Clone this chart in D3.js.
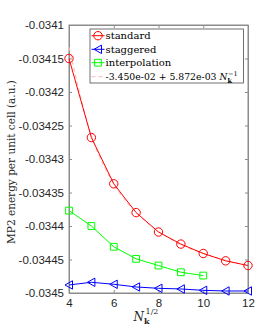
<!DOCTYPE html>
<meta charset="utf-8">
<script src="https://d3js.org/d3.v7.min.js"></script>
<style>
  body { margin: 0; background: #fff; }
</style>
<div id="chart"></div>
<script>

// data
var xs = [4, 5, 6, 7, 8, 9, 10, 11, 12];
var standard = [-0.03415, -0.034268, -0.034337, -0.03438, -0.034409, -0.034427, -0.034441, -0.034452, -0.034459];
var staggered = [-0.034488, -0.034484, -0.034487, -0.034491, -0.034493, -0.034494, -0.034496, -0.034497, -0.034497];
var interpX = [4, 5, 6, 7, 8, 9, 10];
var interpolation = [-0.034377, -0.0344, -0.034431, -0.034449, -0.034459, -0.034469, -0.034474];
var fit = [-0.034133, -0.034265, -0.034337, -0.03438, -0.034408, -0.034428, -0.034441, -0.034451, -0.034459];
var xTicks = [4, 6, 8, 10, 12];
var yTicks = [-0.0341, -0.03415, -0.0342, -0.03425, -0.0343, -0.03435, -0.0344, -0.03445, -0.0345];

var W = 274, H = 329;
var svg = d3.select("#chart").append("svg")
  .attr("width", W).attr("height", H);

var x = d3.scaleLinear().domain([4, 12]).range([69, 248]);
var y = d3.scaleLinear().domain([-0.0345, -0.0341]).range([293, 25]);

var axisCol = "#8c8c8c", textCol = "#262626";

// frame
svg.append("rect")
  .attr("x", 69).attr("y", 25).attr("width", 179).attr("height", 268)
  .attr("fill", "none").attr("stroke", axisCol).attr("stroke-width", 1);

// axes with inward ticks
var xb = svg.append("g").attr("transform", "translate(0,293)")
  .call(d3.axisBottom(x).tickValues(xTicks).tickSizeInner(-3).tickSizeOuter(0).tickPadding(6));
var xt = svg.append("g").attr("transform", "translate(0,25)")
  .call(d3.axisTop(x).tickValues(xTicks).tickSizeInner(-3).tickSizeOuter(0).tickFormat(""));
var yl = svg.append("g").attr("transform", "translate(69,0)")
  .call(d3.axisLeft(y).tickValues(yTicks).tickSizeInner(-3).tickSizeOuter(0).tickPadding(5)
    .tickFormat(function(d) { return String(+d.toFixed(5)).replace("−", "-"); }));
var yr = svg.append("g").attr("transform", "translate(248,0)")
  .call(d3.axisRight(y).tickValues(yTicks).tickSizeInner(-3).tickSizeOuter(0).tickFormat(""));

[xb, xt, yl, yr].forEach(function(g) {
  g.select(".domain").attr("stroke", axisCol);
  g.selectAll(".tick line").attr("stroke", axisCol);
  g.selectAll("text").attr("fill", textCol)
    .style("font-family", "'Liberation Sans', Arial, sans-serif").style("font-size", "11.5px");
});

// fit curve (behind)
var fitLine = d3.line().x(function(d, i) { return x(xs[i]); }).y(function(d) { return y(d); })
  .curve(d3.curveMonotoneX);
svg.append("path").datum(fit)
  .attr("d", fitLine).attr("fill", "none")
  .attr("stroke", "#ffb3b3").attr("stroke-width", 1).attr("stroke-dasharray", "4,3");

function drawSeries(xv, yv, col, marker) {
  var line = d3.line().x(function(d, i) { return x(xv[i]); }).y(function(d) { return y(d); });
  svg.append("path").datum(yv).attr("d", line)
    .attr("fill", "none").attr("stroke", col).attr("stroke-width", 1);
  svg.selectAll(null).data(yv).enter().append("path")
    .attr("transform", function(d, i) { return "translate(" + x(xv[i]) + "," + y(d) + ")"; })
    .attr("d", marker).attr("fill", "none").attr("stroke", col).attr("stroke-width", 1);
}

var circle = "M4.2,0A4.2,4.2 0 1,1 -4.2,0A4.2,4.2 0 1,1 4.2,0Z";
var square = "M-3.4,-3.4H3.4V3.4H-3.4Z";
var triLeft = "M-4,0L3.5,-4.2L3.5,4.2Z";

drawSeries(xs, staggered, "#0000ff", triLeft);
drawSeries(interpX, interpolation, "#00ff00", square);
drawSeries(xs, standard, "#ff0000", circle);

// legend
var lg = svg.append("g");
lg.append("rect").attr("x", 90).attr("y", 29).attr("width", 153.5).attr("height", 54)
  .attr("fill", "#fff").attr("stroke", "#4d4d4d").attr("stroke-width", 0.8);

var legendItems = [
  { name: "standard", col: "#ff0000", marker: circle },
  { name: "staggered", col: "#0000ff", marker: triLeft },
  { name: "interpolation", col: "#00ff00", marker: square }
];
var ly = [35.7, 49.3, 62.7, 76.7];
var serif = "'DejaVu Serif', serif";
legendItems.forEach(function(it, i) {
  lg.append("line").attr("x1", 91.5).attr("x2", 104.5).attr("y1", ly[i]).attr("y2", ly[i])
    .attr("stroke", it.col).attr("stroke-width", 1);
  lg.append("path").attr("transform", "translate(98," + ly[i] + ")").attr("d", it.marker)
    .attr("fill", "none").attr("stroke", it.col).attr("stroke-width", 1);
  lg.append("text").attr("x", 105.5).attr("y", ly[i] + 3.5).text(it.name)
    .attr("fill", "#000").style("font-family", serif).style("font-size", "10px");
});
lg.append("line").attr("x1", 91.5).attr("x2", 104.5).attr("y1", ly[3]).attr("y2", ly[3])
  .attr("stroke", "#ffb3b3").attr("stroke-width", 1).attr("stroke-dasharray", "4,3");
var ft = lg.append("text").attr("x", 105.5).attr("y", ly[3] + 3.5)
  .attr("fill", "#000").style("font-family", serif).style("font-size", "9px");
ft.append("tspan").attr("textLength", 111).attr("lengthAdjust", "spacingAndGlyphs")
  .text("-3.450e-02 + 5.872e-03");
ft.append("tspan").attr("font-style", "italic").attr("dx", 3).text("N");
ft.append("tspan").attr("font-weight", "bold").attr("font-size", "6.5px").attr("dy", 2.5).text("k");
ft.append("tspan").attr("font-size", "6.5px").attr("dy", -7).attr("dx", -3.8).text("−1");

// x label
var xlab = svg.append("text").attr("x", 146).attr("y", 321).attr("text-anchor", "middle")
  .attr("fill", textCol).style("font-family", serif).style("font-size", "12px");
xlab.append("tspan").attr("font-style", "italic").text("N");
xlab.append("tspan").attr("font-weight", "bold").attr("font-size", "8px").attr("dy", 3).text("k");
xlab.append("tspan").attr("font-size", "8px").attr("dy", -10).attr("dx", -4).text("1/2");

// y label
svg.append("text").attr("transform", "translate(15,162) rotate(-90)")
  .attr("text-anchor", "middle").attr("fill", textCol)
  .style("font-family", serif).style("font-size", "10.5px")
  .text("MP2 energy per unit cell (a.u.)");

</script>
